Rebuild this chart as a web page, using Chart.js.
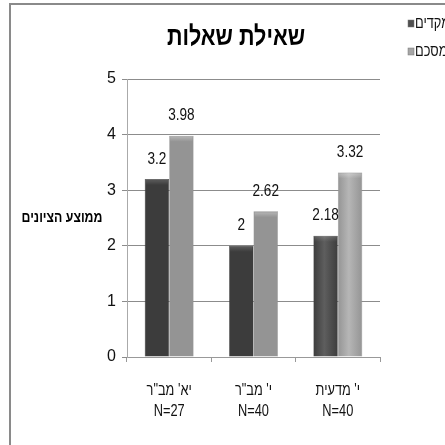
<!DOCTYPE html>
<html><head><meta charset="utf-8">
<script src="https://cdn.jsdelivr.net/npm/chart.js@4"></script>
<style>html,body{margin:0;padding:0;background:#fff;}#wrap{width:445px;height:445px;}</style>
</head><body><div id="wrap"><canvas id="c" width="445" height="445"></canvas></div>
<script>
const categories = [["יא' מב\"ר", "N=27"], ["י' מב\"ר", "N=40"], ["י' מדעית", "N=40"]];
const seriesNames = ["מקדים", "מסכם"];
const preValues = [3.2, 2, 2.18];
const sumValues = [3.98, 2.62, 3.32];
const yTicks = [0, 1, 2, 3, 4, 5];
const titleText = "שאילת שאלות";
const yTitle = "ממוצע הציונים";

const BASE = "'Liberation Sans', Arial, sans-serif";
const DARK = '#505050', LIGHT = '#a6a6a6';
const NX = 0.8;

function narrowText(ctx, text, x, y, sx) {
  ctx.save();
  ctx.translate(x, y);
  ctx.scale(sx, 1);
  ctx.fillText(text, 0, 0);
  ctx.restore();
}

const decor = {
  id: 'decor',
  beforeDatasetsDraw(chart) {
    const ctx = chart.ctx;
    const pal = [['#3c3c3c', '#5e5e5e'], ['#949494', '#b6b6b6']];
    chart.data.datasets.forEach((ds, di) => {
      chart.getDatasetMeta(di).data.forEach(bar => {
        const l = bar.x - bar.width / 2, r = bar.x + bar.width / 2;
        const g = ctx.createLinearGradient(l, 0, r, 0);
        g.addColorStop(0, pal[di][0]);
        g.addColorStop(0.45, pal[di][1]);
        g.addColorStop(1, pal[di][0]);
        bar.options.backgroundColor = g;
      });
    });
  },
  afterDatasetsDraw(chart) {
    const ctx = chart.ctx;
    ctx.save();
    const caps = ['rgba(255,255,255,0.18)', 'rgba(255,255,255,0.35)'];
    chart.data.datasets.forEach((ds, di) => {
      chart.getDatasetMeta(di).data.forEach(bar => {
        const l = bar.x - bar.width / 2;
        const g = ctx.createLinearGradient(0, bar.y, 0, bar.y + 6);
        g.addColorStop(0, caps[di]);
        g.addColorStop(1, 'rgba(255,255,255,0)');
        ctx.fillStyle = g;
        ctx.fillRect(l + 1, bar.y + 1, bar.width - 2, 6);
      });
    });
    ctx.restore();
  },
  afterDraw(chart) {
    const ctx = chart.ctx;
    ctx.save();
    ctx.strokeStyle = '#8a8a8a'; ctx.lineWidth = 2;
    ctx.beginPath(); ctx.moveTo(10, 445); ctx.lineTo(10, 4); ctx.lineTo(445, 4); ctx.stroke();
    ctx.fillStyle = '#000';
    ctx.textAlign = 'center'; ctx.textBaseline = 'middle';
    ctx.font = "bold 27px " + BASE;
    narrowText(ctx, titleText, 236, 38, 0.8);
    ctx.font = "bold 15px " + BASE;
    narrowText(ctx, yTitle, 62, 218, 0.82);
    // legend
    const legY = [24, 52];
    const cols = [DARK, LIGHT];
    ctx.font = "16px " + BASE;
    ctx.textAlign = 'left';
    for (let i = 0; i < 2; i++) {
      ctx.fillStyle = cols[i];
      ctx.fillRect(408, legY[i] - 4, 6, 7);
      ctx.strokeStyle = '#777'; ctx.lineWidth = 0.5;
      ctx.strokeRect(408, legY[i] - 4, 6, 7);
      ctx.fillStyle = '#111';
      narrowText(ctx, seriesNames[i], 415, legY[i], NX);
    }
    // data labels
    ctx.font = "17px " + BASE;
    ctx.textAlign = 'center'; ctx.fillStyle = '#111';
    chart.data.datasets.forEach((ds, di) => {
      chart.getDatasetMeta(di).data.forEach((bar, i) => {
        narrowText(ctx, String(ds.data[i]), bar.x, bar.y - 20, NX);
      });
    });
    // category labels via x scale
    const xs = chart.scales.x;
    ctx.font = "16px " + BASE;
    categories.forEach((lines, i) => {
      const px = xs.getPixelForValue(i);
      lines.forEach((t, j) => narrowText(ctx, t, px, 391 + j * 21, NX));
    });
    ctx.restore();
  }
};

new Chart(document.getElementById('c'), {
  type: 'bar',
  data: {
    labels: categories,
    datasets: [
      { label: seriesNames[0], data: preValues, backgroundColor: DARK, borderColor: '#3a3a3a', borderWidth: 0.5 },
      { label: seriesNames[1], data: sumValues, backgroundColor: LIGHT, borderColor: '#8a8a8a', borderWidth: 0.5 }
    ]
  },
  options: {
    responsive: false, animation: false,
    devicePixelRatio: 1,
    layout: { padding: { left: 0, top: 79, right: 65, bottom: 0 } },
    plugins: { legend: { display: false }, title: { display: false }, tooltip: { enabled: false } },
    datasets: { bar: { categoryPercentage: 0.58, barPercentage: 1 } },
    scales: {
      x: {
        afterFit(s) { s.height = 88; },
        grid: { offset: true, drawOnChartArea: false, drawTicks: true, tickLength: 5, color: '#999' },
        border: { display: true, color: '#999' },
        ticks: { display: false }
      },
      y: {
        min: 0, max: 5,
        afterFit(s) { s.width = 127; },
        afterBuildTicks(s) { s.ticks = yTicks.map(v => ({ value: v })); },
        grid: { color: '#8c8c8c', tickLength: 5, drawTicks: true },
        border: { display: true, color: '#aaa' },
        ticks: { color: '#111', font: { family: BASE, size: 16 }, padding: 6 }
      }
    }
  },
  plugins: [decor]
});
</script></body></html>
